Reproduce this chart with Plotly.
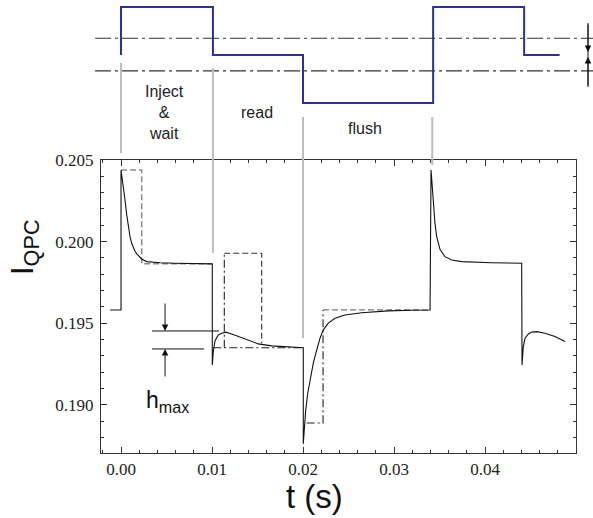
import plotly.graph_objects as go

# ---- measured current trace (solid) ----
t_meas = [-0.0012, 0.0, 0.0, 0.00025, 0.00044, 0.00063, 0.00080, 0.00099, 0.00117, 0.00135,
          0.00155, 0.00173, 0.00200, 0.00227, 0.00282, 0.0035, 0.0043, 0.0060, 0.0080, 0.0098,
          0.01003, 0.01003, 0.01014, 0.01033, 0.01050, 0.01069, 0.01107, 0.01151, 0.01216, 0.01289,
          0.01399, 0.01509, 0.01656, 0.01838, 0.01985, 0.02003, 0.02003, 0.02014, 0.0203, 0.02052,
          0.02077, 0.02113, 0.02151, 0.02187, 0.02223, 0.02278, 0.02352, 0.02462, 0.02645, 0.02937,
          0.0320, 0.03377, 0.03396, 0.03407, 0.03414, 0.03432, 0.0345, 0.03469, 0.03487, 0.03505,
          0.0356, 0.03634, 0.03744, 0.0390, 0.04074, 0.0425, 0.04403, 0.04407, 0.04421, 0.0444,
          0.04476, 0.04513, 0.04568, 0.04659, 0.04769, 0.04879]
i_meas = [0.19582, 0.19582, 0.20439, 0.20347, 0.20255, 0.20163, 0.20092, 0.20031, 0.19990, 0.19961,
          0.19940, 0.19925, 0.19907, 0.19894, 0.19878, 0.19873, 0.19871, 0.19868, 0.19866, 0.19864,
          0.19864, 0.19245, 0.19327, 0.19394, 0.19415, 0.19429, 0.19439, 0.19446, 0.19435, 0.19419,
          0.19394, 0.19374, 0.19362, 0.19354, 0.19351, 0.19351, 0.18762, 0.18868, 0.18970, 0.19072,
          0.19154, 0.19256, 0.19337, 0.19409, 0.19460, 0.19501, 0.19531, 0.19551, 0.19565, 0.19576,
          0.19580, 0.19582, 0.19582, 0.20439, 0.20378, 0.20235, 0.20113, 0.20031, 0.19985, 0.19953,
          0.19908, 0.19888, 0.19878, 0.19873, 0.19871, 0.19869, 0.19868, 0.19245, 0.19357, 0.19409,
          0.19435, 0.19447, 0.19449, 0.19439, 0.19419, 0.19388]

# ---- model steps (dashed / dash-dot) ----
t_model_a = [0.0, 0.00227, 0.00227, 0.00997]
i_model_a = [0.20439, 0.20439, 0.19864, 0.19864]
t_model_b = [0.01014, 0.02]
i_model_b = [0.19350, 0.19350]
t_model_c = [0.01135, 0.01135]
i_model_c = [0.19350, 0.19929]
t_model_d = [0.01135, 0.01546, 0.01546]
i_model_d = [0.19929, 0.19929, 0.19378]
t_model_e = [0.0204, 0.0222, 0.0222]
i_model_e = [0.18890, 0.18890, 0.19582]
t_model_f = [0.0222, 0.0340]
i_model_f = [0.19582, 0.19582]

# ---- gate pulse schematic ----
t_gate = [0.0, 0.0, 0.0101, 0.0200, 0.0343, 0.0443, 0.0482]
v_gate = [0.0, 1.0, 0.0, -1.0, 1.0, 0.0, 0.0]
thresholds = [0.35, -0.33]

phase_t = [0.0, 0.0101, 0.0200, 0.0342]
phase_top = [0.8609, 0.8499, 0.7417, 0.7417]
phase_bottom = [0.6623, 0.4415, 0.2539, 0.6358]
phase_labels = ["Inject<br>&<br>wait", "read", "flush"]
phase_label_t = [0.00473, 0.01495, 0.02681]
phase_label_y = [0.7506, 0.7506, 0.7174]

h_top = 0.19453
h_bottom = 0.19343

x_ticks = [0.0, 0.01, 0.02, 0.03, 0.04]
x_ticktext = ["0.00", "0.01", "0.02", "0.03", "0.04"]
y_ticks = [0.190, 0.195, 0.200, 0.205]
y_ticktext = ["0.190", "0.195", "0.200", "0.205"]

fig = go.Figure()

fig.add_trace(go.Scatter(x=t_model_a, y=i_model_a, mode="lines",
                         line=dict(color="#8a8a8a", width=1.5, dash="6px,3px")))
fig.add_trace(go.Scatter(x=t_model_b, y=i_model_b, mode="lines",
                         line=dict(color="#222", width=1.1, dash="8px,3px,2px,3px")))
fig.add_trace(go.Scatter(x=t_model_c, y=i_model_c, mode="lines",
                         line=dict(color="#222", width=1.1, dash="8px,3px,2px,3px")))
fig.add_trace(go.Scatter(x=t_model_d, y=i_model_d, mode="lines",
                         line=dict(color="#333", width=1.1, dash="6px,3px")))
fig.add_trace(go.Scatter(x=t_model_e, y=i_model_e, mode="lines",
                         line=dict(color="#222", width=1.1, dash="8px,3px,2px,3px")))
fig.add_trace(go.Scatter(x=t_model_f, y=i_model_f, mode="lines",
                         line=dict(color="#777", width=1.3, dash="6px,3px")))
fig.add_trace(go.Scatter(x=t_meas, y=i_meas, mode="lines",
                         line=dict(color="#111", width=1.1)))

fig.add_trace(go.Scatter(x=t_gate, y=v_gate, mode="lines", line_shape="hv",
                         line=dict(color="#2e3192", width=2), xaxis="x", yaxis="y2"))

shapes = []
for lvl in thresholds:
    shapes.append(dict(type="line", xref="paper", yref="y2", x0=-0.0126, x1=1.04,
                       y0=lvl, y1=lvl, line=dict(color="#333", width=1.1, dash="16px,4px,3px,4px")))
for tp, y0, y1 in zip(phase_t, phase_bottom, phase_top):
    shapes.append(dict(type="line", xref="x", yref="paper", x0=tp, x1=tp, y0=y0, y1=y1,
                       line=dict(color="#bdbdbd", width=2)))
shapes.append(dict(type="line", xref="x", yref="y", x0=0.00341, x1=0.01077, y0=h_top, y1=h_top,
                   line=dict(color="#111", width=1)))
shapes.append(dict(type="line", xref="x", yref="y", x0=0.00341, x1=0.00912, y0=h_bottom, y1=h_bottom,
                   line=dict(color="#111", width=1)))
shapes.append(dict(type="line", xref="paper", yref="paper", x0=1.0253, x1=1.0253, y0=0.9492, y1=0.8079,
                   line=dict(color="#111", width=1)))

ann = []
for txt, tx, ty in zip(phase_labels, phase_label_t, phase_label_y):
    ann.append(dict(text=txt, x=tx, y=ty, xref="x", yref="paper", showarrow=False,
                    xanchor="center", yanchor="middle",
                    font=dict(family="Liberation Sans", size=16, color="#222")))
# hmax arrows
ann.append(dict(text="", x=0.00484, y=h_top, xref="x", yref="y", ax=0, ay=-29,
                showarrow=True, arrowhead=2, arrowsize=1.3, arrowwidth=1, arrowcolor="#111", standoff=0))
ann.append(dict(text="", x=0.00484, y=h_bottom, xref="x", yref="y", ax=0, ay=29,
                showarrow=True, arrowhead=2, arrowsize=1.3, arrowwidth=1, arrowcolor="#111", standoff=0))
ann.append(dict(text="h<sub>max</sub>", x=0.00516, y=0.19019, xref="x", yref="y", showarrow=False,
                xanchor="center", yanchor="middle",
                font=dict(family="Liberation Sans", size=23, color="#111")))
# top right arrows
ann.append(dict(text="", x=1.0253, y=0.8852, xref="paper", yref="paper", ax=0, ay=-29,
                showarrow=True, arrowhead=2, arrowsize=1.3, arrowwidth=1, arrowcolor="#111", standoff=0))
ann.append(dict(text="", x=1.0253, y=0.8742, xref="paper", yref="paper", ax=0, ay=30,
                showarrow=True, arrowhead=2, arrowsize=1.3, arrowwidth=1, arrowcolor="#111", standoff=0))
# axis titles
ann.append(dict(text="I<sub>QPC</sub>", x=-0.16, y=0.4547, xref="paper", yref="paper", textangle=-90,
                xanchor="center", yanchor="middle", showarrow=False,
                font=dict(family="Liberation Sans", size=31, color="#111")))
ann.append(dict(text="t (s)", x=0.4505, y=-0.097, xref="paper", yref="paper", showarrow=False,
                xanchor="center", yanchor="middle",
                font=dict(family="Liberation Sans", size=33, color="#111")))

axis_common = dict(showgrid=False, zeroline=False, showline=True, linecolor="#333", linewidth=1.3,
                   ticks="inside", ticklen=6, tickcolor="#333", mirror="ticks", automargin=False,
                   tickfont=dict(family="Liberation Serif", size=17, color="#222"))

fig.update_layout(
    width=593, height=518,
    margin=dict(l=101, r=17, t=0, b=65, autoexpand=False),
    paper_bgcolor="white", plot_bgcolor="white",
    showlegend=False,
    shapes=shapes, annotations=ann,
    xaxis=dict(range=[-0.0022, 0.05], tickmode="array", tickvals=x_ticks, ticktext=x_ticktext,
               minor=dict(dtick=0.002, tick0=0, ticks="inside", ticklen=3, tickcolor="#333"),
               anchor="y", **axis_common),
    yaxis=dict(range=[0.18706, 0.205], domain=[0, 0.6468], tickmode="array", tickvals=y_ticks,
               ticktext=y_ticktext, ticklabelstandoff=3,
               minor=dict(dtick=0.001, tick0=0.185, ticks="inside", ticklen=3, tickcolor="#333"),
               anchor="x", **axis_common),
    yaxis2=dict(range=[-2.1875, 1.1458], domain=[0.6468, 1], visible=False, anchor="x",
                automargin=False),
)

fig.write_html("out.html", config={"displayModeBar": False},
               post_script="document.body.style.margin='0';")
